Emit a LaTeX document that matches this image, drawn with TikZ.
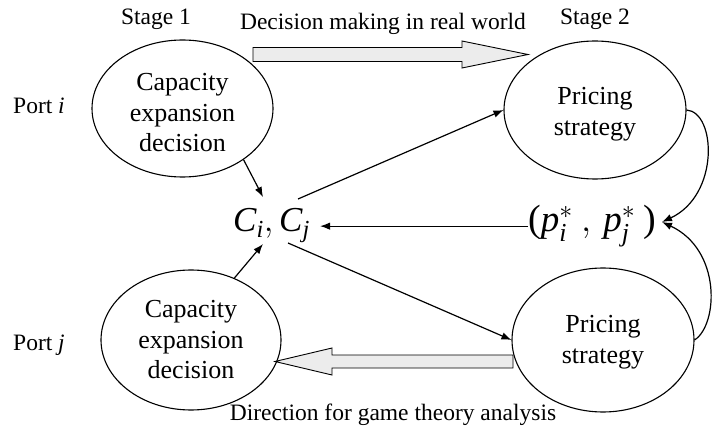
\RequirePackage{fix-cm}
\documentclass[tikz,border=0pt]{standalone}
\usepackage{fontspec}
\setmainfont{Liberation Serif}
\usetikzlibrary{shapes.geometric,arrows.meta}
\newcommand{\bigpar}[1]{\mbox{\fontsize{38}{38}\selectfont #1}}
\begin{document}
\begin{tikzpicture}[x=1pt,y=-1pt,
  ell/.style={draw,ellipse,line width=1.1pt,inner sep=0pt},
  etext/.style={align=center,font=\fontsize{26}{30.5}\selectfont,inner sep=0pt},
  lbl/.style={font=\fontsize{23.5}{28}\selectfont,inner sep=0pt,anchor=base},
  conn/.style={line width=1.2pt,-{Latex[length=10pt,width=7.5pt]}},
  block/.style={draw,line width=0.9pt,fill=gray!15},
  mathlbl/.style={font=\fontsize{35}{42}\selectfont,inner sep=0pt,anchor=base west}]
\useasboundingbox (0,0) rectangle (712,430);

% ellipses
\node[ell,minimum width=181pt,minimum height=137pt] (e1) at (182.5,108.5) {};
\node[etext] (t1) at (182.5,113) {Capacity\\expansion\\decision};
\node[ell,minimum width=182pt,minimum height=138pt] (e2) at (595,110) {};
\node[etext] (t2) at (595,114) {Pricing\\strategy};
\node[ell,minimum width=180pt,minimum height=140pt] (e3) at (191,340) {};
\node[etext] (t3) at (191,340) {Capacity\\expansion\\decision};
\node[ell,minimum width=182pt,minimum height=144pt] (e4) at (603,340) {};
\node[etext] (t4) at (603,342) {Pricing\\strategy};

% labels
\node[lbl] (s1) at (156,25) {Stage 1};
\node[lbl] (s2) at (595,25) {Stage 2};
\node[lbl] (dm) at (383,30) {Decision making in real world};
\node[lbl,anchor=base west] (pi) at (13,114) {Port \textit{i}};
\node[lbl,anchor=base west] (pj) at (13,350) {Port \textit{j}};
\node[lbl] (gt) at (393,420) {Direction for game theory analysis};

% math nodes
\node[mathlbl,inner xsep=10pt] (cc) at (223,232) {$\mathit{C}_{\mathit{i}},\mathit{C}_{\mathit{j}}$};
\node[mathlbl,font=\fontsize{37}{42}\selectfont] (pr) at (528,232)
  {$\bigpar{(}\mathit{p}^{*}_{\mathit{i}}\:,\,\mathit{p}^{*}_{\mathit{j}}\:\bigpar{)}$};

% connector ends
\coordinate (ciT) at (263,197);
\coordinate (ciB) at (263,244);
\coordinate (cjT) at (298,199);
\coordinate (cjB) at (288,243);
\coordinate (prE) at (662,222);

% block arrows
\draw[block] (253,47.5) -- (462,47.5) -- (462,41) -- (528,54.5) -- (462,68) -- (462,61.5) -- (253,61.5) -- cycle;
\draw[block] (513,355) -- (332,355) -- (332,348) -- (275,361.5) -- (332,375) -- (332,368) -- (513,368) -- cycle;

% connectors
\draw[conn] (e1.-40) -- (ciT);
\draw[conn] (e3.55) -- (ciB);
\draw[conn] (cjT) -- (e2.west);
\draw[conn] (cjB) -- (e4.west);
\draw[conn] (pr.west) -- (cc.east |- pr.west);
\draw[conn] (e2.east) .. controls (716,112) and (720,195) .. (prE);
\draw[conn] (e4.east) .. controls (718,325) and (722,250) .. (prE);
\end{tikzpicture}
\end{document}
